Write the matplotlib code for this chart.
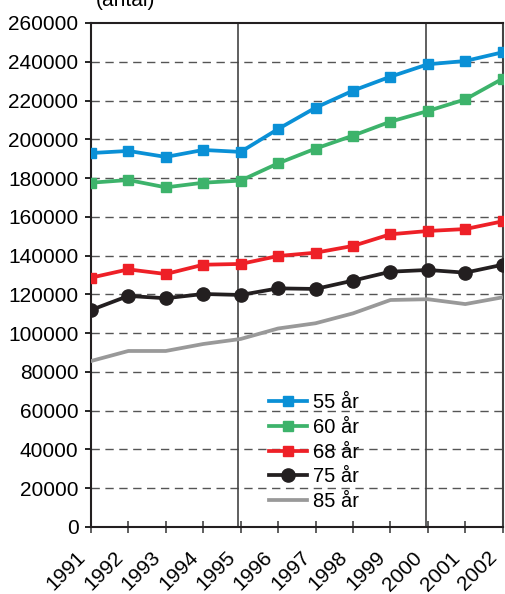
import matplotlib.pyplot as plt
import matplotlib.transforms as mtransforms

plt.rcParams['font.family'] = ['Liberation Sans', 'DejaVu Sans']

years = list(range(1991, 2003))
age_55 = [192900, 194000, 190900, 194500, 193500, 205300, 216300, 225100, 232300, 238700, 240400, 244900]
age_60 = [177600, 179000, 175200, 177600, 178700, 187600, 195200, 201900, 209100, 214600, 220600, 231300]
age_68 = [128600, 132900, 130500, 135300, 135700, 139800, 141500, 145000, 151000, 152700, 153700, 157700]
age_75 = [111900, 119200, 118000, 120200, 119700, 123100, 122800, 127100, 131700, 132600, 131200, 135300]
age_85 = [85600, 90800, 90800, 94400, 97000, 102400, 105100, 110200, 117100, 117500, 115000, 118500]
unit_label = "(antal)"

fig = plt.figure(figsize=(5.05, 5.94), dpi=100)
ax = fig.add_axes([0.180, 0.1128, 0.817, 0.8485])

# horizontal dashed grid
for v in range(20000, 260000, 20000):
    ax.axhline(v, color='#555555', lw=1.0, ls=(0, (6, 4)), zorder=1)
for yr in (1995, 2000):
    ax.axvline(yr - 0.06, color='#444444', lw=1.2, zorder=1)

ax.plot(years, age_85, color='#999999', lw=2.7, label='85 år', zorder=3)
ax.plot(years, age_75, color='#231F20', lw=2.7, marker='o', ms=9.5, label='75 år', zorder=4)
ax.plot(years, age_68, color='#EE2027', lw=2.7, marker='s', ms=6.8, label='68 år', zorder=4)
ax.plot(years, age_60, color='#3DB36B', lw=2.7, marker='s', ms=6.8, label='60 år', zorder=4)
ax.plot(years, age_55, color='#0A90D6', lw=2.7, marker='s', ms=6.8, label='55 år', zorder=4)

ax.set_xlim(1991, 2002.02)
ax.set_ylim(0, 260000)
ax.set_yticks(range(0, 260001, 20000))
ax.set_xticks(years)
ax.set_xticklabels([])

# rotated year labels, nudged left/down from their ticks
xlab_trans = ax.get_xaxis_transform() + mtransforms.ScaledTranslation(
    -0.15, -0.21, fig.dpi_scale_trans)
for yr in years:
    ax.text(yr, 0, str(yr), transform=xlab_trans, rotation=45, ha='right', va='top',
            rotation_mode='anchor', fontsize=15)

ax.tick_params(axis='y', labelsize=15, direction='out', length=4, width=1.2, pad=5)
ax.tick_params(axis='x', direction='inout', length=9, width=1.2, color='#444444')
for side in ('left', 'bottom', 'top', 'right'):
    ax.spines[side].set_linewidth(1.5)
    ax.spines[side].set_color('#231F20')
ax.spines['right'].set_color('#444444')

handles, labels = ax.get_legend_handles_labels()
ax.legend(handles[::-1], labels[::-1], loc='lower left', bbox_to_anchor=(0.393, 0.0),
          frameon=False, fontsize=14.5, handlelength=1.9, handletextpad=0.3,
          labelspacing=0.28, borderaxespad=0.4)

fig.text(0.19, 1.0, unit_label, fontsize=15, va='center', ha='left')

fig.savefig('out.png', dpi=100)
